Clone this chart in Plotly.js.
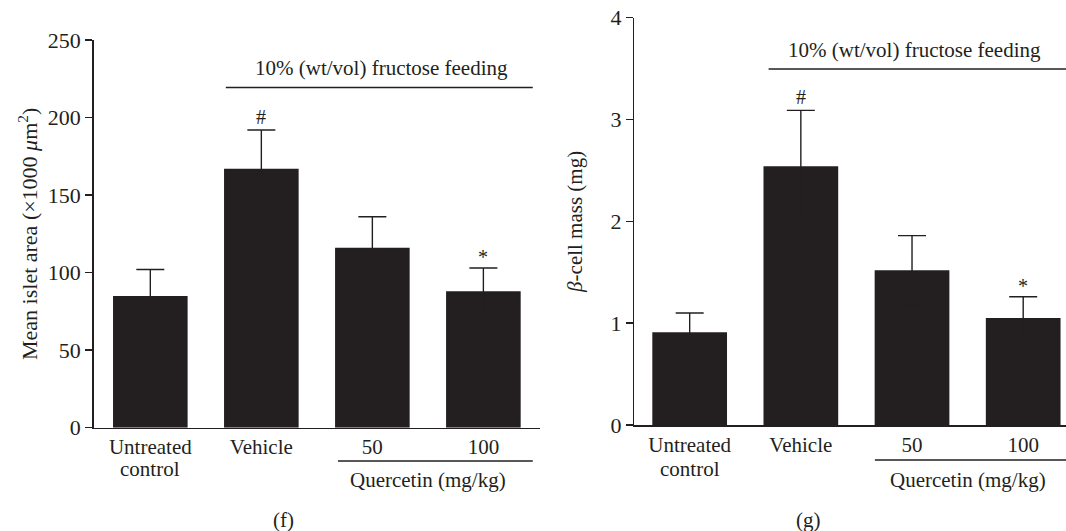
<!DOCTYPE html>
<html>
<head>
<meta charset="utf-8">
<script src="https://cdn.plot.ly/plotly-3.0.1.min.js"></script>
<style>html,body{margin:0;padding:0;background:#fff;}#chart{width:1066px;height:531px;}</style>
</head>
<body>
<div id="chart"></div>
<script>
// ---- data ----
const categories = ["Untreated", "Vehicle", "50", "100"];
const categoriesLine2 = ["control", "", "", ""];
const isletArea = [85, 167, 116, 88];          // mean islet area (x1000 µm²)
const isletAreaErr = [17, 25, 20, 15];
const betaMass = [0.91, 2.54, 1.52, 1.05];     // β-cell mass (mg)
const betaMassErr = [0.19, 0.55, 0.34, 0.21];
const yTicksF = [0, 50, 100, 150, 200, 250];
const yTicksG = [0, 1, 2, 3, 4];
const markF = ["", "#", "", "*"];
const markG = ["", "#", "", "*"];

const ink = '#231f20';
const fontFam = '"Liberation Serif", "Times New Roman", serif';
const idx = categories.map((_, i) => i);

function barTrace(vals, errs, xa, ya) {
  return {
    type: 'bar', x: idx, y: vals, xaxis: xa, yaxis: ya,
    marker: {color: ink, line: {width: 0}},
    error_y: {type: 'data', array: errs, symmetric: true,
              color: ink, thickness: 1.4, width: 14},
    hoverinfo: 'none', showlegend: false
  };
}

const data = [
  barTrace(isletArea, isletAreaErr, 'x', 'y'),
  barTrace(betaMass, betaMassErr, 'x2', 'y2')
];

const axisX = (domain, range, anchor) => ({
  domain: domain, range: range, anchor: anchor,
  tickmode: 'array', tickvals: idx, ticktext: categories,
  showline: true, linecolor: ink, linewidth: 1.5, ticks: '',
  showgrid: false, zeroline: false,
  tickfont: {family: fontFam, size: 21, color: ink}, fixedrange: true
});
const axisY = (domain, range, ticks, anchor, title, tsize, standoff) => ({
  domain: domain, range: range, anchor: anchor,
  tickmode: 'array', tickvals: ticks,
  showline: true, linecolor: ink, linewidth: 1.5,
  ticks: 'outside', ticklen: 7, tickwidth: 1.5, tickcolor: ink,
  showgrid: false, zeroline: false,
  tickfont: {family: fontFam, size: 22, color: ink},
  title: {text: title, font: {family: fontFam, size: tsize, color: ink}, standoff: standoff},
  fixedrange: true
});

const annotations = [];
function addMarks(marks, vals, errs, xr, yr) {
  marks.forEach((m, i) => {
    if (!m) return;
    annotations.push({xref: xr, yref: yr, x: idx[i], y: vals[i] + errs[i], text: m,
      showarrow: false, yanchor: 'bottom', yshift: m === '*' ? -2 : 0,
      font: {family: fontFam, size: 20, color: ink}});
  });
}
addMarks(markF, isletArea, isletAreaErr, 'x', 'y');
addMarks(markG, betaMass, betaMassErr, 'x2', 'y2');

const txt = () => ({family: fontFam, size: 21, color: ink});
['x', 'x2'].forEach(xr => {
  categoriesLine2.forEach((s, i) => {
    if (!s) return;
    annotations.push({xref: xr, yref: 'paper', x: idx[i], y: (531 - 469) / 531, text: s,
      showarrow: false, yanchor: 'middle', font: txt()});
  });
});
annotations.push(
  {xref: 'x', yref: 'paper', x: 2.08, y: (531 - 68) / 531, text: '10% (wt/vol) fructose feeding', showarrow: false, yanchor: 'middle', font: txt()},
  {xref: 'x2', yref: 'paper', x: 2.02, y: (531 - 50) / 531, text: '10% (wt/vol) fructose feeding', showarrow: false, yanchor: 'middle', font: txt()},
  {xref: 'x', yref: 'paper', x: 2.5, y: (531 - 480) / 531, text: 'Quercetin (mg/kg)', showarrow: false, yanchor: 'middle', font: txt()},
  {xref: 'x2', yref: 'paper', x: 2.5, y: (531 - 480) / 531, text: 'Quercetin (mg/kg)', showarrow: false, yanchor: 'middle', font: txt()},
  {xref: 'paper', yref: 'paper', x: 271 / 1066, y: (531 - 520) / 531, text: '(f)', showarrow: false, yanchor: 'middle', font: txt()},
  {xref: 'paper', yref: 'paper', x: 823 / 1066, y: (531 - 520) / 531, text: '(g)', showarrow: false, yanchor: 'middle', font: txt()}
);

const lineStyle = {color: ink, width: 1.5};
const shapes = [
  {type: 'line', xref: 'x', yref: 'paper', x0: 0.68, x1: 3.445, y0: (531 - 87.5) / 531, y1: (531 - 87.5) / 531, line: lineStyle},
  {type: 'line', xref: 'x2', yref: 'paper', x0: 0.71, x1: 3.385, y0: (531 - 69) / 531, y1: (531 - 69) / 531, line: lineStyle},
  {type: 'line', xref: 'x', yref: 'paper', x0: 1.69, x1: 3.445, y0: (531 - 461) / 531, y1: (531 - 461) / 531, line: lineStyle},
  {type: 'line', xref: 'x2', yref: 'paper', x0: 1.666, x1: 3.385, y0: (531 - 460) / 531, y1: (531 - 460) / 531, line: lineStyle}
];

const layout = {
  width: 1066, height: 531,
  margin: {l: 0, r: 0, t: 0, b: 0},
  paper_bgcolor: '#fff', plot_bgcolor: '#fff',
  bargap: 0.328,
  showlegend: false,
  xaxis: axisX([93.7 / 1066, 540 / 1066], [-0.51, 3.51], 'y'),
  yaxis: axisY([(531 - 427.7) / 531, (531 - 40) / 531], [0, 250], yTicksF, 'x',
               'Mean islet area (×1000 <i>μ</i>m<sup>2</sup>)', 22, 4),
  xaxis2: axisX([634.3 / 1066, 1], [-0.498, 3.385], 'y2'),
  yaxis2: axisY([(531 - 425) / 531, (531 - 17.7) / 531], [0, 4], yTicksG, 'x2',
               '<i>β</i>-cell mass (mg)', 21, 22),
  annotations: annotations,
  shapes: shapes
};

Plotly.newPlot('chart', data, layout, {staticPlot: true, displayModeBar: false});
</script>
</body>
</html>
